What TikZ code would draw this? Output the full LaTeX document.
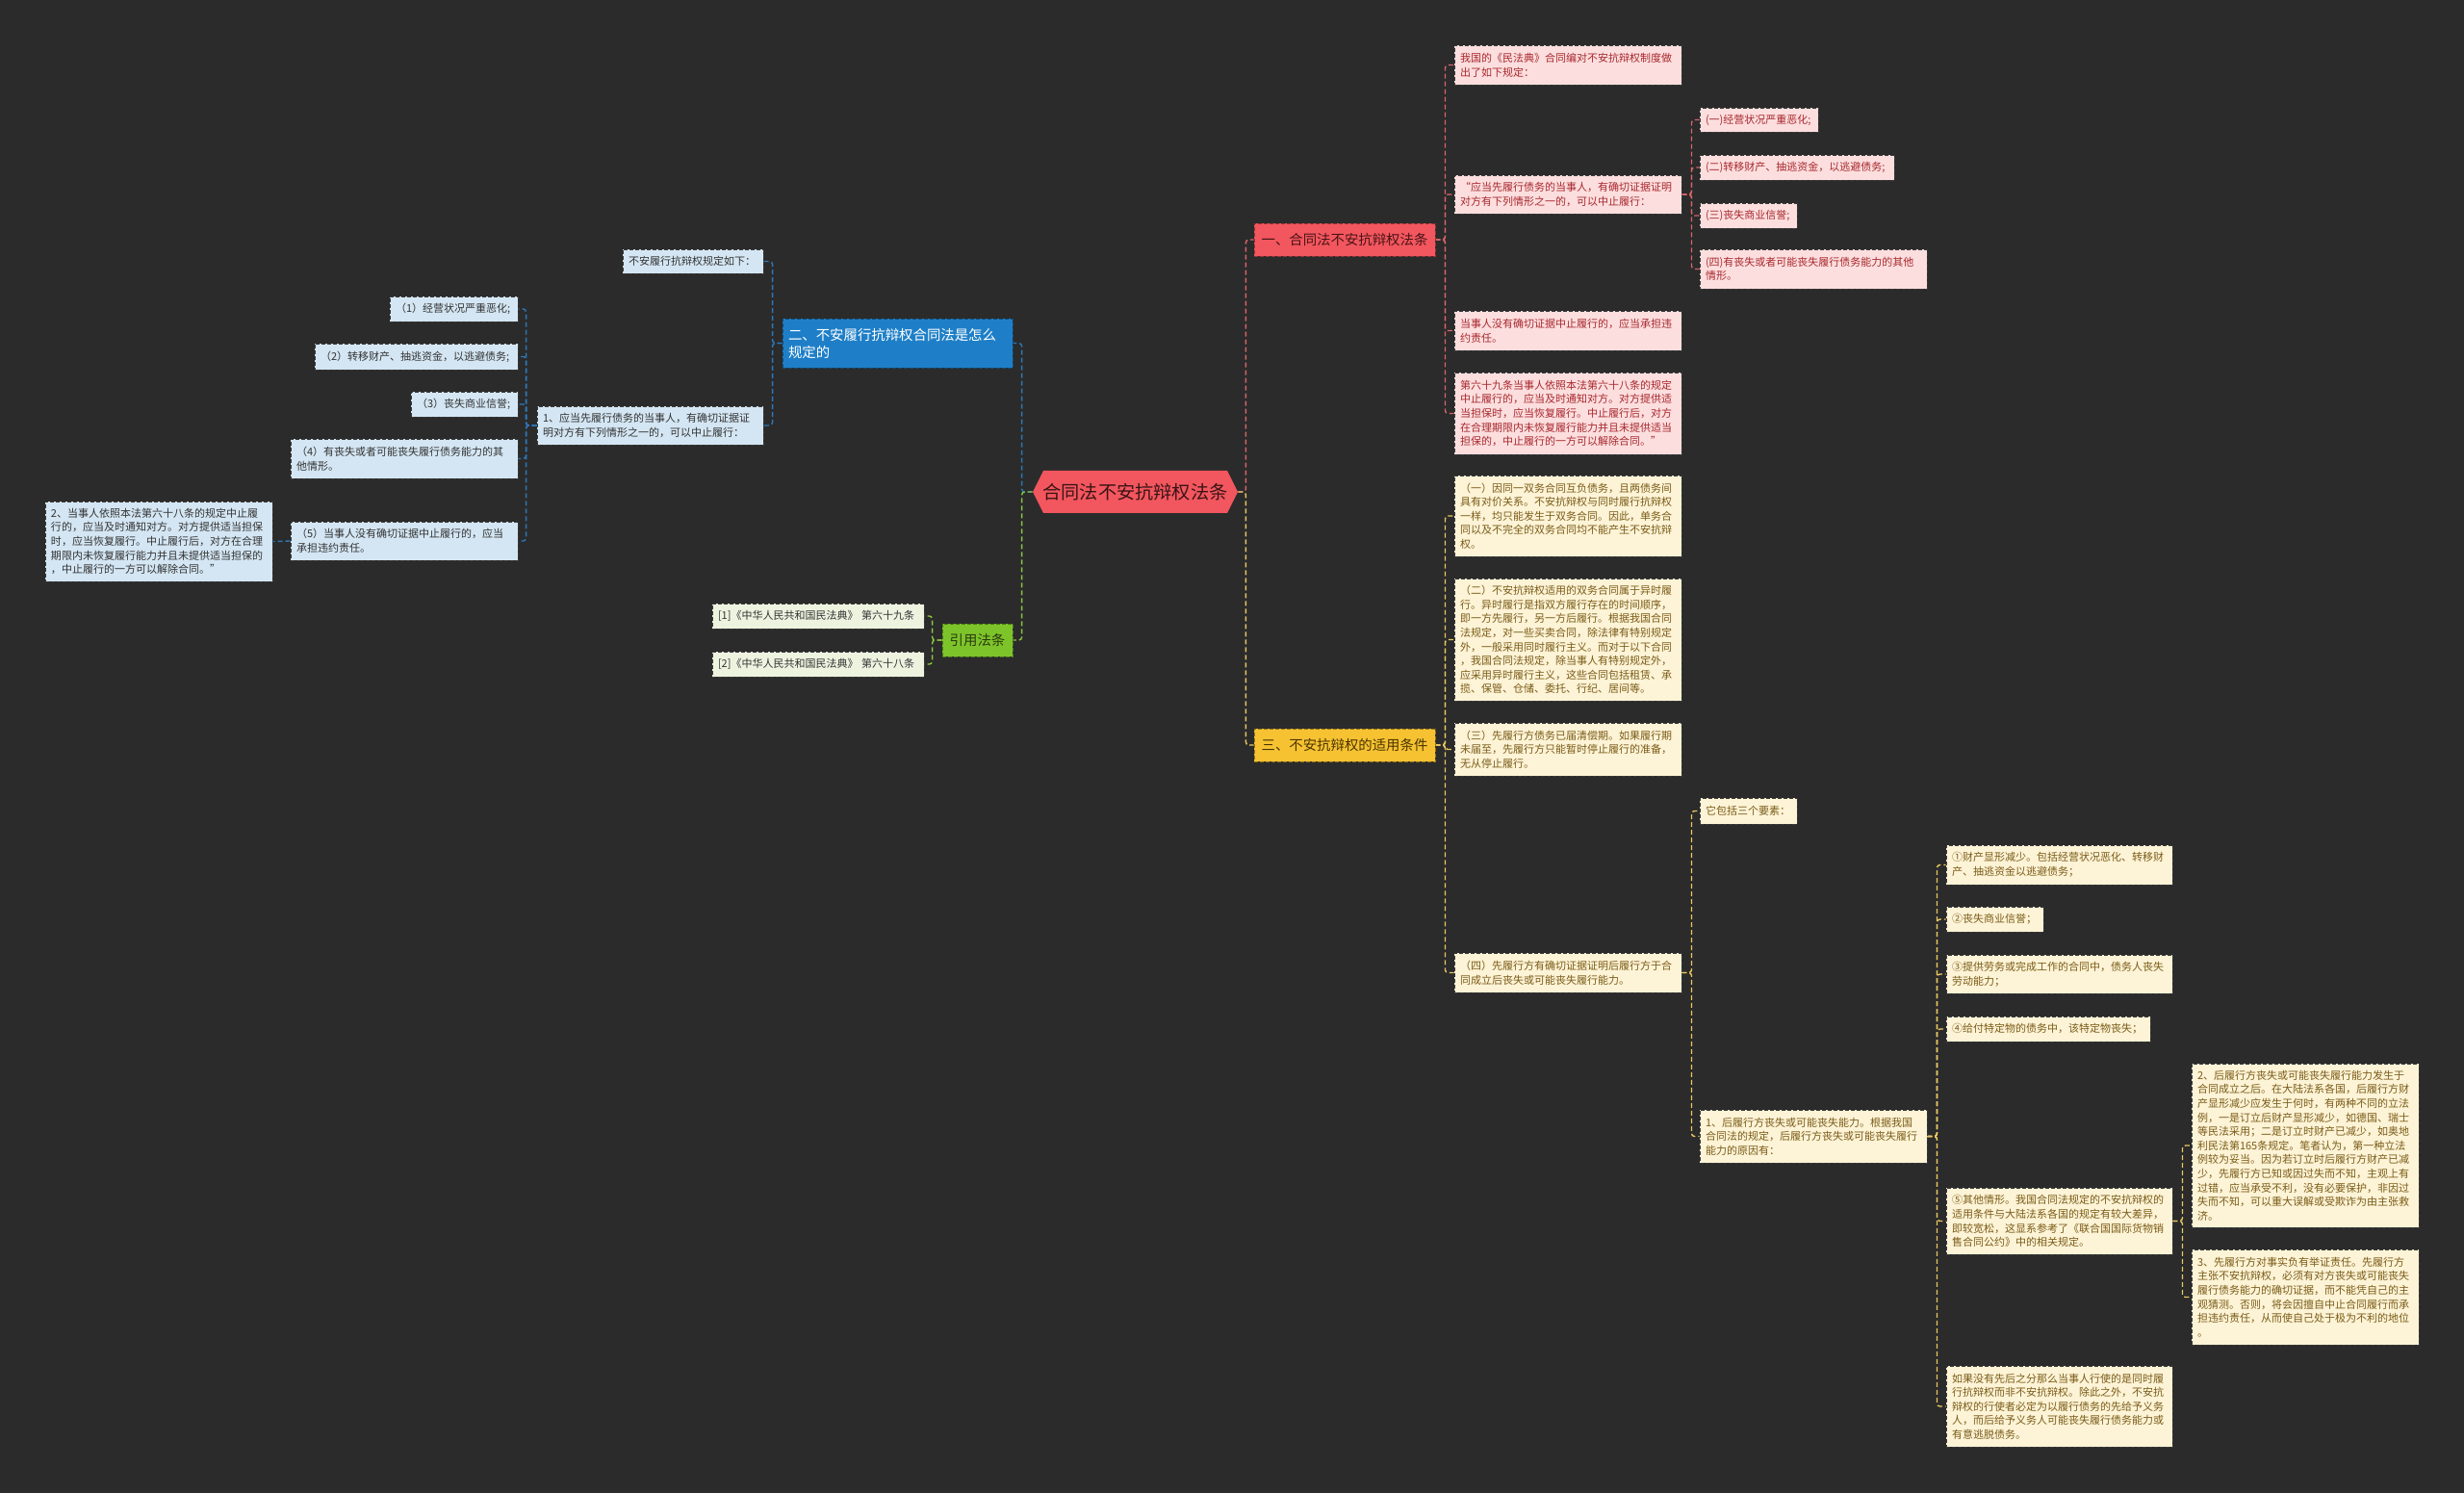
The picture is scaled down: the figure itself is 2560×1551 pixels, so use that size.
\documentclass[tikz,border=0pt]{standalone}
\usepackage{fontspec}
\setmainfont{Noto Sans CJK SC}
\usetikzlibrary{backgrounds}
\definecolor{bg}{HTML}{2B2B2B}
\definecolor{rootfill}{HTML}{F2565E}
\definecolor{roottext}{HTML}{3A1416}
\definecolor{redbr}{HTML}{F2565E}
\definecolor{redbrtext}{HTML}{4A1416}
\definecolor{bluebr}{HTML}{1E7FC8}
\definecolor{greenbr}{HTML}{7DC42A}
\definecolor{greenbrtext}{HTML}{2A3A10}
\definecolor{yellowbr}{HTML}{F6C232}
\definecolor{yellowbrtext}{HTML}{4A3500}
\definecolor{lbfill}{HTML}{D4E6F3}
\definecolor{lgfill}{HTML}{EEF3E0}
\definecolor{lpfill}{HTML}{FCDEDE}
\definecolor{lyfill}{HTML}{FDF3D6}
\definecolor{lptext}{HTML}{A8282E}
\definecolor{lytext}{HTML}{7A5C18}
\definecolor{ltext}{HTML}{333333}
\definecolor{ldraw}{HTML}{3A3A3A}
\definecolor{cblue}{HTML}{2C78B8}
\definecolor{cgreen}{HTML}{8CC63F}
\definecolor{cpink}{HTML}{D9646B}
\definecolor{cyellow}{HTML}{E9C862}
\tikzset{
  leaf/.style={rectangle,inner xsep=3pt,inner ysep=0.5pt,align=left,
    font=\fontsize{5.5pt}{7.3pt}\selectfont,dash pattern=on 2pt off 1pt,line width=0.45pt,draw=ldraw},
  lB/.style={leaf,fill=lbfill,text=ltext},
  lG/.style={leaf,fill=lgfill,text=ltext},
  lP/.style={leaf,fill=lpfill,text=lptext},
  lY/.style={leaf,fill=lyfill,text=lytext},
  branch/.style={rectangle,inner xsep=3pt,inner ysep=0.5pt,
    font=\fontsize{7.2pt}{9pt}\selectfont,dash pattern=on 2pt off 1pt,line width=0.45pt},
  brR/.style={branch,align=center,fill=redbr,draw=redbr!60!black,text=redbrtext},
  brB/.style={branch,align=left,fill=bluebr,draw=bluebr!60!black,text=white},
  brG/.style={branch,align=center,fill=greenbr,draw=greenbr!60!black,text=greenbrtext},
  brY/.style={branch,align=center,fill=yellowbr,draw=yellowbr!60!black,text=yellowbrtext},
  conn/.style={line width=0.7pt,dash pattern=on 2.5pt off 1.5pt,rounded corners=1.5pt},
  cB/.style={conn,draw=cblue},
  cG/.style={conn,draw=cgreen},
  cP/.style={conn,draw=cpink},
  cY/.style={conn,draw=cyellow},
}
\newcommand\bx[7]{%
  \pgfmathsetmacro\bxw{(#5-#3)*0.5}%
  \pgfmathsetmacro\bxh{(#6-#4)*0.5}%
  \pgfmathsetmacro\bxt{(#5-#3-12)*0.5}%
  \node[#2,minimum width=\bxw pt,minimum height=\bxh pt,text width=\bxt pt] (#1) at ({(#3+#5)/2},{(#4+#6)/2}) {#7};}
\begin{document}
\begin{tikzpicture}[x=0.5pt,y=-0.5pt]
\useasboundingbox (0,0) rectangle (2560,1551);

% root
\fill[rootfill] (1073,511) -- (1084,489) -- (1275,489) -- (1286,511) -- (1275,533) -- (1084,533) -- cycle;
\node[font=\fontsize{9.6pt}{11pt}\selectfont,text=roottext,minimum width=106.5pt,minimum height=22pt,inner sep=0pt] (root) at (1179.5,511) {合同法不安抗辩权法条};

% ---------- blue branch (left)
\bx{b2}{brB}{813}{331}{1052}{382}{二、不安履行抗辩权合同法是怎么\\规定的}
\bx{bq}{lB}{647}{259}{793}{284}{不安履行抗辩权规定如下：}
\bx{bx1}{lB}{558}{422}{793}{462}{1、应当先履行债务的当事人，有确切证据证\\明对方有下列情形之一的，可以中止履行：}
\bx{n1}{lB}{405}{308}{538}{334}{（1）经营状况严重恶化;}
\bx{n2}{lB}{327}{357}{538}{384}{（2）转移财产、抽逃资金，以逃避债务;}
\bx{n3}{lB}{427}{407}{538}{433}{（3）丧失商业信誉;}
\bx{n4}{lB}{302}{456}{538}{497}{（4）有丧失或者可能丧失履行债务能力的其\\他情形。}
\bx{n5}{lB}{302}{542}{538}{582}{（5）当事人没有确切证据中止履行的，应当\\承担违约责任。}
\bx{n6}{lB}{47}{521}{283}{604}{2、当事人依照本法第六十八条的规定中止履\\行的，应当及时通知对方。对方提供适当担保\\时，应当恢复履行。中止履行后，对方在合理\\期限内未恢复履行能力并且未提供适当担保的\\，中止履行的一方可以解除合同。”}

% ---------- green branch
\bx{cite}{brG}{979}{648}{1052}{682}{引用法条}
\bx{c1}{lG}{740}{627}{960}{653}{[1]《中华人民共和国民法典》 第六十九条}
\bx{c2}{lG}{740}{677}{960}{703}{[2]《中华人民共和国民法典》 第六十八条}

% ---------- red branch
\bx{b1}{brR}{1303}{232}{1491}{266}{一、合同法不安抗辩权法条}
\bx{p1}{lP}{1511}{47}{1747}{88}{我国的《民法典》合同编对不安抗辩权制度做\\出了如下规定：}
\bx{p2}{lP}{1511}{182}{1747}{222}{“应当先履行债务的当事人，有确切证据证明\\对方有下列情形之一的，可以中止履行：}
\bx{p3}{lP}{1511}{323}{1747}{364}{当事人没有确切证据中止履行的，应当承担违\\约责任。}
\bx{p4}{lP}{1511}{387}{1747}{472}{第六十九条当事人依照本法第六十八条的规定\\中止履行的，应当及时通知对方。对方提供适\\当担保时，应当恢复履行。中止履行后，对方\\在合理期限内未恢复履行能力并且未提供适当\\担保的，中止履行的一方可以解除合同。”}
\bx{q1}{lP}{1766}{112}{1889}{137}{(一)经营状况严重恶化;}
\bx{q2}{lP}{1766}{161}{1968}{187}{(二)转移财产、抽逃资金，以逃避债务;}
\bx{q3}{lP}{1766}{211}{1867}{237}{(三)丧失商业信誉;}
\bx{q4}{lP}{1766}{259}{2002}{300}{(四)有丧失或者可能丧失履行债务能力的其他\\情形。}

% ---------- yellow branch
\bx{b3}{brY}{1303}{757}{1491}{791}{三、不安抗辩权的适用条件}
\bx{y1}{lY}{1511}{494}{1747}{578}{（一）因同一双务合同互负债务，且两债务间\\具有对价关系。不安抗辩权与同时履行抗辩权\\一样，均只能发生于双务合同。因此，单务合\\同以及不完全的双务合同均不能产生不安抗辩\\权。}
\bx{y2}{lY}{1511}{601}{1747}{728}{（二）不安抗辩权适用的双务合同属于异时履\\行。异时履行是指双方履行存在的时间顺序，\\即一方先履行，另一方后履行。根据我国合同\\法规定，对一些买卖合同，除法律有特别规定\\外，一般采用同时履行主义。而对于以下合同\\，我国合同法规定，除当事人有特别规定外，\\应采用异时履行主义，这些合同包括租赁、承\\揽、保管、仓储、委托、行纪、居间等。}
\bx{y3}{lY}{1511}{751}{1747}{806}{（三）先履行方债务已届清偿期。如果履行期\\未届至，先履行方只能暂时停止履行的准备，\\无从停止履行。}
\bx{y4}{lY}{1511}{990}{1747}{1031}{（四）先履行方有确切证据证明后履行方于合\\同成立后丧失或可能丧失履行能力。}
\bx{z0}{lY}{1766}{829}{1867}{856}{它包括三个要素：}
\bx{z1}{lY}{1766}{1153}{2002}{1208}{1、后履行方丧失或可能丧失能力。根据我国\\合同法的规定，后履行方丧失或可能丧失履行\\能力的原因有：}
\bx{w1}{lY}{2022}{878}{2257}{919}{①财产显形减少。包括经营状况恶化、转移财\\产、抽逃资金以逃避债务；}
\bx{w2}{lY}{2022}{942}{2123}{968}{②丧失商业信誉；}
\bx{w3}{lY}{2022}{992}{2257}{1032}{③提供劳务或完成工作的合同中，债务人丧失\\劳动能力；}
\bx{w4}{lY}{2022}{1056}{2234}{1082}{④给付特定物的债务中，该特定物丧失；}
\bx{w5}{lY}{2022}{1234}{2257}{1303}{⑤其他情形。我国合同法规定的不安抗辩权的\\适用条件与大陆法系各国的规定有较大差异，\\即较宽松，这显系参考了《联合国国际货物销\\售合同公约》中的相关规定。}
\bx{w6}{lY}{2022}{1419}{2257}{1503}{如果没有先后之分那么当事人行使的是同时履\\行抗辩权而非不安抗辩权。除此之外，不安抗\\辩权的行使者必定为以履行债务的先给予义务\\人，而后给予义务人可能丧失履行债务能力或\\有意逃脱债务。}
\bx{v1}{lY}{2277}{1105}{2513}{1275}{2、后履行方丧失或可能丧失履行能力发生于\\合同成立之后。在大陆法系各国，后履行方财\\产显形减少应发生于何时，有两种不同的立法\\例，一是订立后财产显形减少，如德国、瑞士\\等民法采用；二是订立时财产已减少，如奥地\\利民法第165条规定。笔者认为，第一种立法\\例较为妥当。因为若订立时后履行方财产已减\\少，先履行方已知或因过失而不知，主观上有\\过错，应当承受不利，没有必要保护，非因过\\失而不知，可以重大误解或受欺诈为由主张救\\济。}
\bx{v2}{lY}{2277}{1298}{2513}{1397}{3、先履行方对事实负有举证责任。先履行方\\主张不安抗辩权，必须有对方丧失或可能丧失\\履行债务能力的确切证据，而不能凭自己的主\\观猜测。否则，将会因擅自中止合同履行而承\\担违约责任，从而使自己处于极为不利的地位\\。}

% ---------- background and connectors (behind nodes)
\begin{scope}[on background layer]
\fill[bg] (0,0) rectangle (2560,1551);
% root to branches
\draw[cB] (root.west) -- ++(-11,0) |- (b2.east);
\draw[cG] (root.west) -- ++(-11,0) |- (cite.east);
\draw[cP] (root.east) -- ++(8,0) |- (b1.west);
\draw[cY] (root.east) -- ++(8,0) |- (b3.west);
% blue
\foreach \c in {bq,bx1} \draw[cB] (b2.west) -- ++(-10,0) |- (\c.east);
\foreach \c in {n1,n2,n3,n4,n5} \draw[cB] (bx1.west) -- ++(-11,0) |- (\c.east);
\draw[cB] (n5.west) -- (n6.east);
% green
\foreach \c in {c1,c2} \draw[cG] (cite.west) -- ++(-10,0) |- (\c.east);
% red
\foreach \c in {p1,p2,p3,p4} \draw[cP] (b1.east) -- ++(10,0) |- (\c.west);
\foreach \c in {q1,q2,q3,q4} \draw[cP] (p2.east) -- ++(10,0) |- (\c.west);
% yellow
\foreach \c in {y1,y2,y3,y4} \draw[cY] (b3.east) -- ++(10,0) |- (\c.west);
\foreach \c in {z0,z1} \draw[cY] (y4.east) -- ++(10,0) |- (\c.west);
\foreach \c in {w1,w2,w3,w4,w5,w6} \draw[cY] (z1.east) -- ++(10,0) |- (\c.west);
\foreach \c in {v1,v2} \draw[cY] (w5.east) -- ++(10,0) |- (\c.west);
\end{scope}
\end{tikzpicture}
\end{document}
